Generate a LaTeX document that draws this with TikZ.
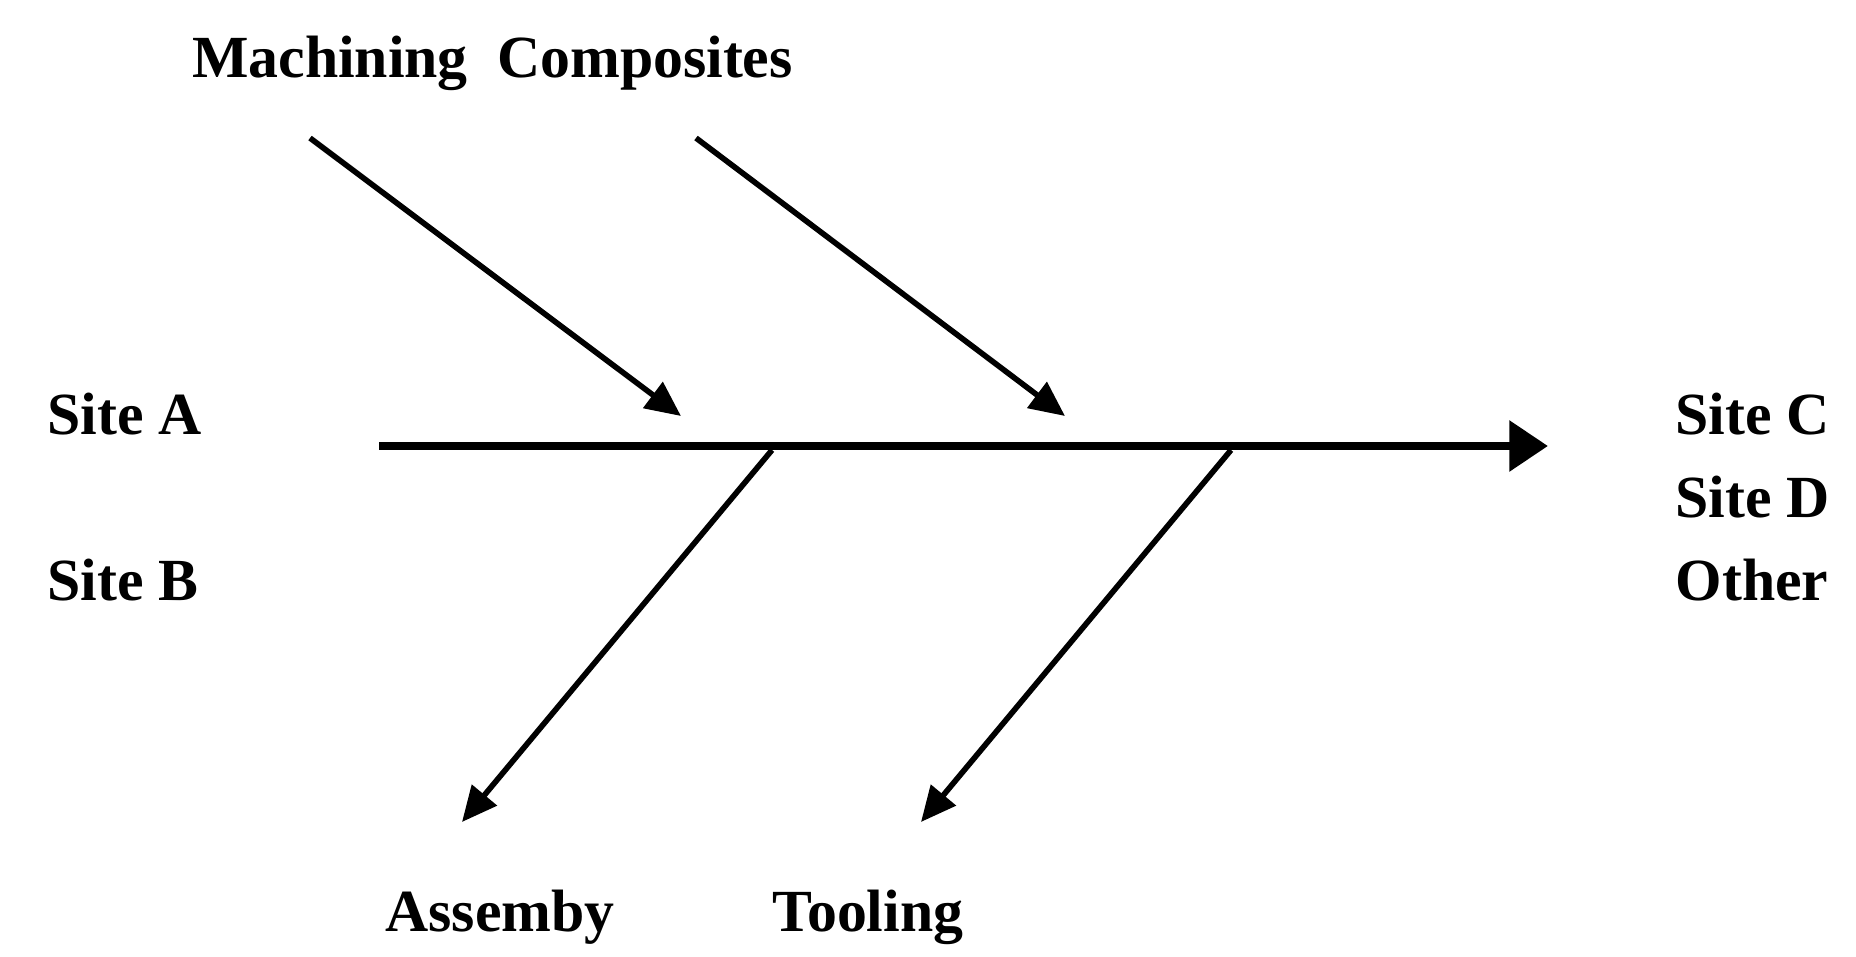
\documentclass[tikz,border=0pt]{standalone}
\usepackage{fontspec}
\setmainfont{Liberation Serif}
\usetikzlibrary{positioning,arrows.meta}

\begin{document}
\begin{tikzpicture}[x=0.01cm,y=-0.01cm,
	lbl/.style={font=\bfseries\fontsize{17}{20}\selectfont,inner sep=0pt},
	bone/.style={line width=1.6pt,-{Triangle[length=10pt,width=9pt]}}]
	\useasboundingbox (0,0) rectangle (1856,957);
	\coordinate (tail) at (379,446);
	\coordinate (head) at (1548,446);
	\coordinate (m0) at (310,138);
	\coordinate (m1) at (681,416);
	\coordinate (c0) at (696,138);
	\coordinate (c1) at (1065,416);
	\coordinate (a0) at (772,450);
	\coordinate (a1) at (462,822);
	\coordinate (t0) at (1231,450);
	\coordinate (t1) at (921,822);
	\node[lbl] (mach) at (330,63) {Machining};
	\node[lbl] (comp) at (645,63) {Composites};
	\node[lbl,anchor=west] (sa) at (47,414) {Site A};
	\node[lbl,anchor=west] (sb) at (47,580) {Site B};
	\node[lbl,anchor=west] (sc) at (1675,414) {Site C};
	\node[lbl,anchor=west] (sd) at (1675,497) {Site D};
	\node[lbl,anchor=west] (oth) at (1675,580) {Other};
	\node[lbl] (asm) at (500,917) {Assemby};
	\node[lbl] (tool) at (868,917) {Tooling};
	\draw[line width=2.4pt,-{Triangle[length=11pt,width=14pt]}] (tail) -- (head);
	\draw[bone] (m0) -- (m1);
	\draw[bone] (c0) -- (c1);
	\draw[bone] (a0) -- (a1);
	\draw[bone] (t0) -- (t1);
\end{tikzpicture}
\end{document}
